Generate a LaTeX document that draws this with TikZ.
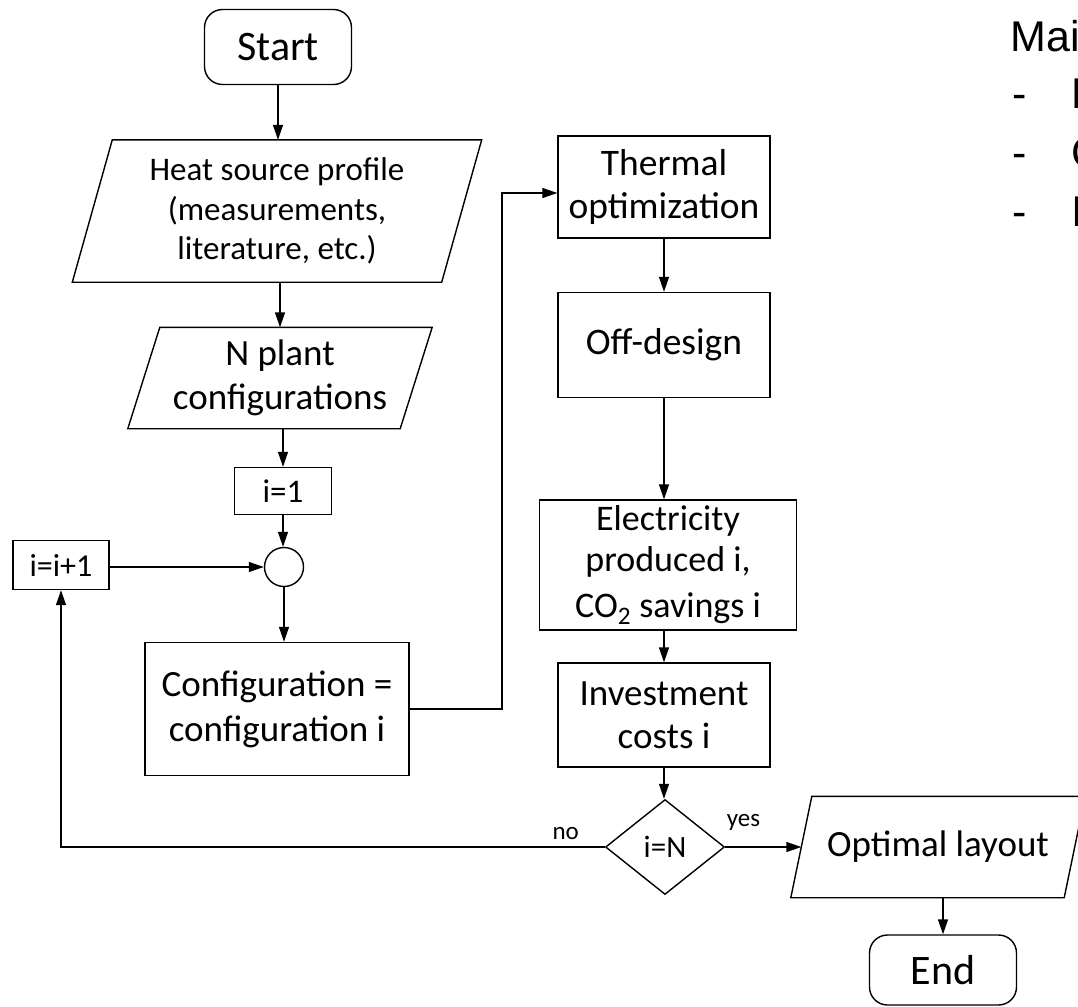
\documentclass[tikz,border=0pt]{standalone}
\usepackage{fontspec}
\setmainfont{Carlito}
\newfontfamily\arialfont{Liberation Sans}
\usetikzlibrary{arrows.meta,shapes.geometric}

% slanted outline round an io node
\newcommand{\drawio}[2]{\draw ([xshift=#2]#1.north west) -- ([xshift=#2]#1.north east) -- ([xshift=-#2]#1.south east) -- ([xshift=-#2]#1.south west) -- cycle;}

\tikzset{
  term/.style={draw, rounded corners=18pt, minimum width=147pt, minimum height=75pt, font=\fontsize{42}{50}\selectfont},
  proc/.style={draw, align=center, inner sep=0pt},
  io/.style={align=center, inner sep=0pt},
  dec/.style={draw, diamond, inner sep=0pt, minimum width=119pt, minimum height=95pt, font=\fontsize{31}{36}\selectfont},
  junct/.style={draw, circle, minimum size=39pt, inner sep=0pt},
  lbl/.style={inner sep=0pt, font=\fontsize{25}{28}\selectfont},
  side/.style={anchor=base west, inner sep=0pt, font=\arialfont\fontsize{43}{50}\selectfont}
}

\begin{document}
\begin{tikzpicture}[>={Triangle[length=15pt,width=10pt]}, x=1pt, y=-1pt, line width=1.4pt]
\useasboundingbox (0,0) rectangle (1078,1006);

% left column
\node[term] (start) at (278,47) {Start};
\node[io, minimum width=368pt, minimum height=141pt, font=\fontsize{33}{39.5}\selectfont] (heat) at (277,211) {Heat source profile\\(measurements,\\literature, etc.)};
\drawio{heat}{20pt}
\node[io, minimum width=271pt, minimum height=100pt, font=\fontsize{37}{44}\selectfont] (plants) at (280,378) {N plant\\configurations};
\drawio{plants}{16pt}
\node[proc, minimum width=97pt, minimum height=47pt, font=\fontsize{33}{37}\selectfont] (init) at (283,491) {i=1};
\node[junct] (merge) at (284,567) {};
\node[proc, minimum width=96pt, minimum height=49pt, font=\fontsize{32}{37}\selectfont] (incr) at (61,565) {i=i+1};
\node[proc, minimum width=264pt, minimum height=133pt, font=\fontsize{37}{45}\selectfont] (config) at (277,709) {Configuration =\\configuration i};

% right column
\node[proc, minimum width=212pt, minimum height=102pt, font=\fontsize{37.5}{43}\selectfont] (thermal) at (664,187) {Thermal\\optimization};
\node[proc, minimum width=212pt, minimum height=105pt, font=\fontsize{37.5}{44}\selectfont] (offdesign) at (664,345) {Off-design};
\node[proc, minimum width=257pt, minimum height=130pt, font=\fontsize{36}{41}\selectfont] (elec) at (668,565) {Electricity\\produced i,\\[5pt]CO\textsubscript{2} savings i};
\node[proc, minimum width=212pt, minimum height=104pt, font=\fontsize{37}{43}\selectfont] (invest) at (664,715) {Investment\\costs i};
\node[dec] (check) at (665,847) {i=N};
\node[io, minimum width=272pt, minimum height=100pt, font=\fontsize{37}{43}\selectfont] (layout) at (938,847) {Optimal layout};
\drawio{layout}{10.5pt}
\node[term, minimum height=70pt] (end) at (943,970) {End};

% connectors
\draw[->] (start.south) -- (start.south |- heat.north);
\draw[->] (heat.south -| plants) -- (plants.north);
\draw[->] (plants.south -| init) -- (init.north);
\draw[->] (init.south) -- (init.south |- merge.north);
\draw[->] (merge.south) -- (merge.south |- config.north);
\draw[->] (incr.east |- merge) -- (merge.west);
\coordinate (up) at (502,193);
\draw[->] (config.east) -| (up) -- (up -| thermal.west);
\draw[->] (thermal) -- (offdesign);
\draw[->] (offdesign.south) -- (offdesign.south |- elec.north);
\draw[->] (elec.south -| invest) -- (invest.north);
\draw[->] (invest.south) -- (invest.south |- check.north);
\draw[->] (check.east) -- node[lbl, above=16pt, pos=.24] {yes} (layout.west);
\draw[->] (check.west) -| node[lbl, above=7pt, pos=.036] {no} (incr.south);
\draw[->] (layout.south -| end) -- (end.north);

% cut text at the right edge
\begin{scope}
\clip (0,0) rectangle (1078,1006);
\node[side] (title) at (1010,52) {Mai};
\foreach \y/\c [count=\k] in {109/E,167/C,226/I}{
  \node[side] (dash\k) at (1012,\y) {-};
  \node[side] (item\k) at (1071,\y) {\c};
}
\end{scope}
\end{tikzpicture}
\end{document}
